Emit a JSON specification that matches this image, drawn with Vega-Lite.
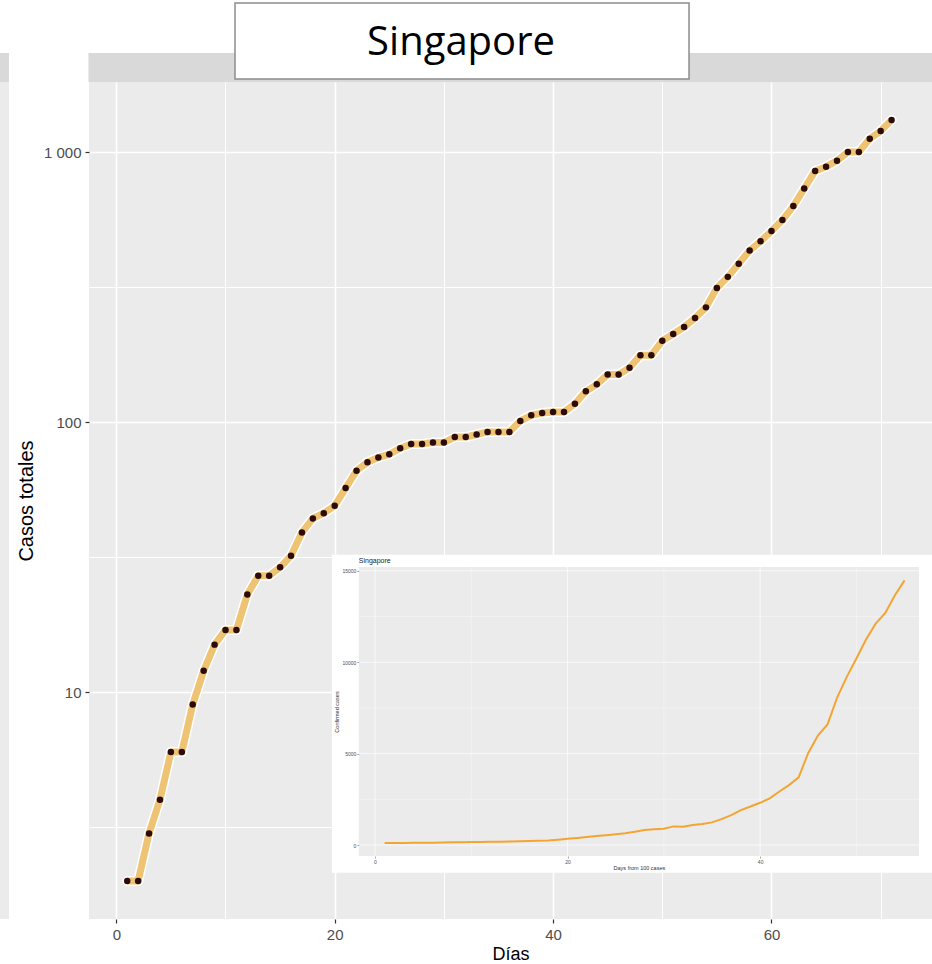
{
  "$schema": "https://vega.github.io/schema/vega-lite/v6.json",
  "width": 843,
  "height": 837,
  "autosize": {"type": "none"},
  "padding": {"left": 89, "top": 82, "right": 0, "bottom": 45},
  "background": "white",
  "config": {"view": {"fill": "#EBEBEB", "stroke": null}, "font": "Liberation Sans"},
  "datasets": {
    "main": [
      {"day": 1, "cases": 2}, {"day": 2, "cases": 2}, {"day": 3, "cases": 3}, {"day": 4, "cases": 4},
      {"day": 5, "cases": 6}, {"day": 6, "cases": 6}, {"day": 7, "cases": 9}, {"day": 8, "cases": 12},
      {"day": 9, "cases": 15}, {"day": 10, "cases": 17}, {"day": 11, "cases": 17}, {"day": 12, "cases": 23},
      {"day": 13, "cases": 27}, {"day": 14, "cases": 27}, {"day": 15, "cases": 29}, {"day": 16, "cases": 32},
      {"day": 17, "cases": 39}, {"day": 18, "cases": 44}, {"day": 19, "cases": 46}, {"day": 20, "cases": 49},
      {"day": 21, "cases": 57}, {"day": 22, "cases": 66}, {"day": 23, "cases": 71}, {"day": 24, "cases": 74},
      {"day": 25, "cases": 76}, {"day": 26, "cases": 80}, {"day": 27, "cases": 83}, {"day": 28, "cases": 83},
      {"day": 29, "cases": 84}, {"day": 30, "cases": 84}, {"day": 31, "cases": 88}, {"day": 32, "cases": 88},
      {"day": 33, "cases": 90}, {"day": 34, "cases": 92}, {"day": 35, "cases": 92}, {"day": 36, "cases": 92},
      {"day": 37, "cases": 101}, {"day": 38, "cases": 106}, {"day": 39, "cases": 108}, {"day": 40, "cases": 109},
      {"day": 41, "cases": 109}, {"day": 42, "cases": 117}, {"day": 43, "cases": 130}, {"day": 44, "cases": 138},
      {"day": 45, "cases": 150}, {"day": 46, "cases": 150}, {"day": 47, "cases": 159}, {"day": 48, "cases": 177},
      {"day": 49, "cases": 177}, {"day": 50, "cases": 200}, {"day": 51, "cases": 212}, {"day": 52, "cases": 225},
      {"day": 53, "cases": 243}, {"day": 54, "cases": 266}, {"day": 55, "cases": 314}, {"day": 56, "cases": 345},
      {"day": 57, "cases": 386}, {"day": 58, "cases": 432}, {"day": 59, "cases": 467}, {"day": 60, "cases": 510},
      {"day": 61, "cases": 560}, {"day": 62, "cases": 631}, {"day": 63, "cases": 733}, {"day": 64, "cases": 851},
      {"day": 65, "cases": 883}, {"day": 66, "cases": 929}, {"day": 67, "cases": 1000}, {"day": 68, "cases": 1000},
      {"day": 69, "cases": 1120}, {"day": 70, "cases": 1196}, {"day": 71, "cases": 1314}
    ],
    "inset": [
      {"day": 1, "confirmed": 110}, {"day": 2, "confirmed": 112}, {"day": 3, "confirmed": 115}, {"day": 4, "confirmed": 120},
      {"day": 5, "confirmed": 125}, {"day": 6, "confirmed": 130}, {"day": 7, "confirmed": 138}, {"day": 8, "confirmed": 150},
      {"day": 9, "confirmed": 155}, {"day": 10, "confirmed": 160}, {"day": 11, "confirmed": 170}, {"day": 12, "confirmed": 178},
      {"day": 13, "confirmed": 185}, {"day": 14, "confirmed": 195}, {"day": 15, "confirmed": 205}, {"day": 16, "confirmed": 215},
      {"day": 17, "confirmed": 228}, {"day": 18, "confirmed": 243}, {"day": 19, "confirmed": 290}, {"day": 20, "confirmed": 345},
      {"day": 21, "confirmed": 390}, {"day": 22, "confirmed": 440}, {"day": 23, "confirmed": 490}, {"day": 24, "confirmed": 540},
      {"day": 25, "confirmed": 590}, {"day": 26, "confirmed": 640}, {"day": 27, "confirmed": 730}, {"day": 28, "confirmed": 820},
      {"day": 29, "confirmed": 860}, {"day": 30, "confirmed": 890}, {"day": 31, "confirmed": 1020}, {"day": 32, "confirmed": 1000},
      {"day": 33, "confirmed": 1090}, {"day": 34, "confirmed": 1150}, {"day": 35, "confirmed": 1240}, {"day": 36, "confirmed": 1420},
      {"day": 37, "confirmed": 1640}, {"day": 38, "confirmed": 1910}, {"day": 39, "confirmed": 2110}, {"day": 40, "confirmed": 2310},
      {"day": 41, "confirmed": 2550}, {"day": 42, "confirmed": 2930}, {"day": 43, "confirmed": 3280}, {"day": 44, "confirmed": 3700},
      {"day": 45, "confirmed": 5040}, {"day": 46, "confirmed": 5990}, {"day": 47, "confirmed": 6600}, {"day": 48, "confirmed": 8070},
      {"day": 49, "confirmed": 9200}, {"day": 50, "confirmed": 10200}, {"day": 51, "confirmed": 11240}, {"day": 52, "confirmed": 12110},
      {"day": 53, "confirmed": 12700}, {"day": 54, "confirmed": 13660}, {"day": 55, "confirmed": 14480}
    ]
  },
  "layer": [
    {
      "layer": [
        {
          "data": {"values": [{}]},
          "mark": {"type": "rect", "fill": "#EBEBEB"},
          "encoding": {"x": {"datum": -10.65}, "x2": {"datum": -9.83}, "y": {"datum": 1.446}, "y2": {"datum": 1817}}
        },
        {
          "data": {"values": [{}]},
          "mark": {"type": "rect", "fill": "#D9D9D9"},
          "encoding": {"x": {"datum": -10.65}, "x2": {"datum": -9.83}, "y": {"datum": 1817}, "y2": {"datum": 2327}}
        },
        {
          "data": {"values": [{}]},
          "mark": {"type": "rect", "fill": "#D9D9D9"},
          "encoding": {"x": {"datum": -2.55}, "x2": {"datum": 80}, "y": {"datum": 1817}, "y2": {"datum": 2327}}
        },
        {
          "data": {"values": [{}]},
          "mark": {"type": "rect", "fill": "white", "stroke": "#8C8C8C", "strokeWidth": 1.5},
          "encoding": {"x": {"datum": 10.87}, "x2": {"datum": 52.45}, "y": {"datum": 1864}, "y2": {"datum": 3564}}
        },
        {
          "data": {"values": [{}]},
          "mark": {"type": "text", "text": "Singapore", "font": "Open Sans", "fontSize": 40, "align": "center", "baseline": "alphabetic", "color": "black"},
          "encoding": {"x": {"datum": 31.57}, "y": {"datum": 2288}}
        },
        {
          "data": {"name": "main"},
          "mark": {"type": "line", "stroke": "white", "strokeWidth": 10, "strokeCap": "round", "strokeJoin": "round"},
          "encoding": {"x": {"field": "day", "type": "quantitative"}, "y": {"field": "cases", "type": "quantitative"}}
        },
        {
          "data": {"name": "main"},
          "mark": {"type": "line", "stroke": "#EEC373", "strokeWidth": 7, "strokeJoin": "round"},
          "encoding": {"x": {"field": "day", "type": "quantitative"}, "y": {"field": "cases", "type": "quantitative"}}
        },
        {
          "data": {"name": "main"},
          "mark": {"type": "circle", "size": 42, "fill": "#2B0B0B", "opacity": 1},
          "encoding": {
            "x": {
              "field": "day", "type": "quantitative",
              "scale": {"domain": [-2.5, 74.7], "nice": false, "zero": false},
              "axis": {
                "orient": "bottom",
                "grid": true,
                "values": [0, 10, 20, 30, 40, 50, 60, 70],
                "labelExpr": "datum.value % 20 == 0 ? datum.label : ''",
                "tickOpacity": {"condition": {"test": "datum.value % 20 != 0", "value": 0}, "value": 1},
                "gridWidth": {"condition": {"test": "datum.value % 20 != 0", "value": 1}, "value": 1.6},
                "gridColor": "white", "gridOpacity": 1, "domain": false, "tickColor": "#333333", "tickSize": 4, "tickWidth": 1.2,
                "labelFontSize": 15, "labelColor": "#4D4D4D", "labelPadding": 4,
                "title": "Días", "titleFontSize": 18, "titleFontWeight": "normal", "titleColor": "black", "titlePadding": 3,
                "zindex": 0
              }
            },
            "y": {
              "field": "cases", "type": "quantitative",
              "scale": {"type": "log", "domain": [1.446, 1817], "nice": false},
              "axis": {
                "orient": "left",
                "grid": true,
                "values": [3.1623, 10, 31.623, 100, 316.23, 1000],
                "format": ",.0f",
                "labelExpr": "indexof([10,100,1000], datum.value) >= 0 ? replace(datum.label, ',', ' ') : ''",
                "tickOpacity": {"condition": {"test": "indexof([10,100,1000], datum.value) < 0", "value": 0}, "value": 1},
                "gridWidth": {"condition": {"test": "indexof([10,100,1000], datum.value) < 0", "value": 1}, "value": 1.6},
                "gridColor": "white", "gridOpacity": 1, "domain": false, "tickColor": "#333333", "tickSize": 4, "tickWidth": 1.2,
                "labelFontSize": 15, "labelColor": "#4D4D4D", "labelPadding": 4,
                "title": "Casos totales", "titleFontSize": 20, "titleFontWeight": "normal", "titleColor": "black", "titlePadding": 7,
                "zindex": 0
              }
            }
          }
        }
      ]
    },
    {
      "layer": [
        {
          "data": {"values": [{}]},
          "mark": {"type": "rect", "fill": "white"},
          "encoding": {"x": {"datum": -4.47}, "x2": {"datum": 62}, "y": {"datum": -1515}, "y2": {"datum": 15875}}
        },
        {
          "data": {"values": [{}]},
          "mark": {"type": "rect", "fill": "#EBEBEB"},
          "encoding": {"x": {"datum": -1.68}, "x2": {"datum": 56.5}, "y": {"datum": -600}, "y2": {"datum": 15210}}
        },
        {"data": {"values": [{}]}, "mark": {"type": "rule", "stroke": "white", "strokeWidth": 0.7}, "encoding": {"x": {"datum": 0}, "y": {"datum": -600}, "y2": {"datum": 15210}}},
        {"data": {"values": [{}]}, "mark": {"type": "rule", "stroke": "white", "strokeWidth": 0.35}, "encoding": {"x": {"datum": 10}, "y": {"datum": -600}, "y2": {"datum": 15210}}},
        {"data": {"values": [{}]}, "mark": {"type": "rule", "stroke": "white", "strokeWidth": 0.7}, "encoding": {"x": {"datum": 20}, "y": {"datum": -600}, "y2": {"datum": 15210}}},
        {"data": {"values": [{}]}, "mark": {"type": "rule", "stroke": "white", "strokeWidth": 0.35}, "encoding": {"x": {"datum": 30}, "y": {"datum": -600}, "y2": {"datum": 15210}}},
        {"data": {"values": [{}]}, "mark": {"type": "rule", "stroke": "white", "strokeWidth": 0.7}, "encoding": {"x": {"datum": 40}, "y": {"datum": -600}, "y2": {"datum": 15210}}},
        {"data": {"values": [{}]}, "mark": {"type": "rule", "stroke": "white", "strokeWidth": 0.35}, "encoding": {"x": {"datum": 50}, "y": {"datum": -600}, "y2": {"datum": 15210}}},
        {"data": {"values": [{}]}, "mark": {"type": "rule", "stroke": "white", "strokeWidth": 0.7}, "encoding": {"y": {"datum": 0}, "x": {"datum": -1.68}, "x2": {"datum": 56.5}}},
        {"data": {"values": [{}]}, "mark": {"type": "rule", "stroke": "white", "strokeWidth": 0.35}, "encoding": {"y": {"datum": 2500}, "x": {"datum": -1.68}, "x2": {"datum": 56.5}}},
        {"data": {"values": [{}]}, "mark": {"type": "rule", "stroke": "white", "strokeWidth": 0.7}, "encoding": {"y": {"datum": 5000}, "x": {"datum": -1.68}, "x2": {"datum": 56.5}}},
        {"data": {"values": [{}]}, "mark": {"type": "rule", "stroke": "white", "strokeWidth": 0.35}, "encoding": {"y": {"datum": 7500}, "x": {"datum": -1.68}, "x2": {"datum": 56.5}}},
        {"data": {"values": [{}]}, "mark": {"type": "rule", "stroke": "white", "strokeWidth": 0.7}, "encoding": {"y": {"datum": 10000}, "x": {"datum": -1.68}, "x2": {"datum": 56.5}}},
        {"data": {"values": [{}]}, "mark": {"type": "rule", "stroke": "white", "strokeWidth": 0.35}, "encoding": {"y": {"datum": 12500}, "x": {"datum": -1.68}, "x2": {"datum": 56.5}}},
        {"data": {"values": [{}]}, "mark": {"type": "rule", "stroke": "white", "strokeWidth": 0.7}, "encoding": {"y": {"datum": 15000}, "x": {"datum": -1.68}, "x2": {"datum": 56.5}}},
        {
          "data": {"values": [{}]},
          "mark": {"type": "text", "text": "Singapore", "fontSize": 7, "align": "left", "baseline": "middle", "color": "#222222"},
          "encoding": {"x": {"datum": -1.68}, "y": {"datum": 15520}}
        },
        {
          "data": {"name": "inset"},
          "mark": {"type": "line", "stroke": "#F3A532", "strokeWidth": 2},
          "encoding": {
            "x": {
              "field": "day", "type": "quantitative",
              "scale": {"domain": [-1.68, 56.5], "range": [269.8, 830], "nice": false, "zero": false},
              "axis": {
                "orient": "bottom", "offset": -63, "values": [0, 20, 40], "grid": false, "domain": false,
                "tickSize": 2, "tickColor": "#555555", "tickWidth": 0.5,
                "labelFontSize": 5, "labelColor": "#4D4D4D", "labelPadding": 1,
                "title": "Days from 100 cases", "titleFontSize": 5.5, "titleFontWeight": "normal", "titleColor": "#333333", "titlePadding": 1,
                "zindex": 1
              }
            },
            "y": {
              "field": "confirmed", "type": "quantitative",
              "scale": {"domain": [-600, 15210], "range": [774, 485], "nice": false, "zero": false},
              "axis": {
                "orient": "left", "offset": -269.8, "values": [0, 5000, 10000, 15000], "format": "d", "grid": false, "domain": false,
                "tickSize": 2, "tickColor": "#555555", "tickWidth": 0.5,
                "labelFontSize": 5, "labelColor": "#4D4D4D", "labelPadding": 1,
                "title": "Confirmed cases", "titleFontSize": 5.5, "titleFontWeight": "normal", "titleColor": "#333333", "titlePadding": 2,
                "zindex": 1
              }
            }
          }
        }
      ]
    }
  ],
  "resolve": {"scale": {"x": "independent", "y": "independent"}, "axis": {"x": "independent", "y": "independent"}}
}
